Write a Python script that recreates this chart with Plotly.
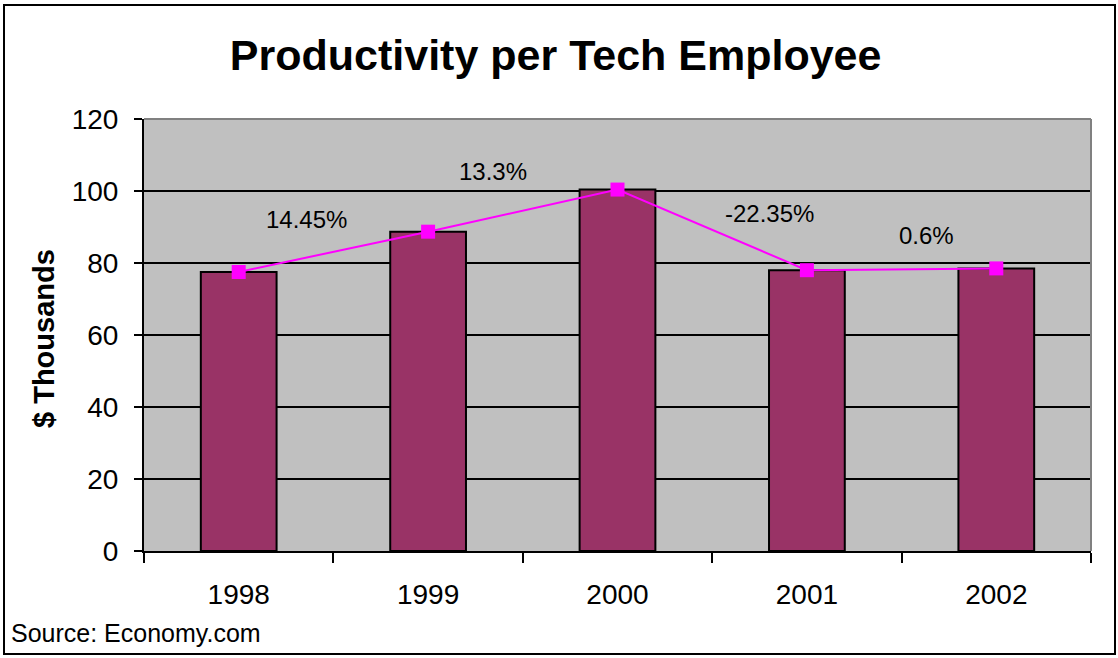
import plotly.graph_objects as go

# Productivity per tech employee, $ thousands
years = ["1998", "1999", "2000", "2001", "2002"]
productivity = [77.5, 88.7, 100.4, 78.0, 78.5]

# Year-over-year change labels, placed between the bars
change_labels = ["14.45%", "13.3%", "-22.35%", "0.6%"]
change_label_x = [0.36, 1.34, 2.80, 3.63]
change_label_y = [92.2, 105.4, 93.7, 87.7]

W, H = 1118, 658
L, R, T, B = 144, 27, 119, 107
PW, PH = W - L - R, H - T - B

FONT = "Arial, Liberation Sans, sans-serif"
BAR = "#993366"
LINE = "#FF00FF"


def px_x(px):
    return (px - L) / PW


def px_y(py):
    return (H - B - py) / PH


fig = go.Figure()

fig.add_trace(go.Bar(
    x=years, y=productivity, width=0.4,
    marker=dict(color=BAR, line=dict(color="black", width=2)),
    hoverinfo="skip", showlegend=False,
))

fig.add_trace(go.Scatter(
    x=years, y=productivity, mode="lines+markers",
    line=dict(color=LINE, width=2),
    marker=dict(symbol="square", size=14, color=LINE),
    showlegend=False,
))

for txt, xv, yv in zip(change_labels, change_label_x, change_label_y):
    fig.add_annotation(x=xv, y=yv, xref="x", yref="y", text=txt,
                       showarrow=False, font=dict(family=FONT, size=24, color="black"))

# y-axis title
fig.add_annotation(x=px_x(44), y=px_y(339), xref="paper", yref="paper",
                   xanchor="center", yanchor="middle",
                   text="<b>$ Thousands</b>", textangle=-90, showarrow=False,
                   font=dict(family=FONT, size=29, color="black"))

# source note
fig.add_annotation(x=px_x(9), y=px_y(633), xref="paper", yref="paper",
                   xanchor="left", yanchor="middle", text="Source: Economy.com",
                   showarrow=False, font=dict(family=FONT, size=25, color="black"))

# grey top/right edge of plot area
fig.add_shape(type="line", xref="paper", yref="paper", x0=0, x1=1, y0=1, y1=1,
              line=dict(color="#808080", width=2), layer="above")
fig.add_shape(type="line", xref="paper", yref="paper", x0=1, x1=1, y0=0, y1=1,
              line=dict(color="#808080", width=2), layer="above")

# outer chart frame
fig.add_shape(type="rect", xref="paper", yref="paper",
              x0=px_x(4), x1=px_x(1115), y0=px_y(654), y1=px_y(5),
              line=dict(color="black", width=2), fillcolor="rgba(0,0,0,0)")

fig.update_layout(
    width=W, height=H,
    margin=dict(l=L, r=R, t=T, b=B, pad=0),
    paper_bgcolor="white", plot_bgcolor="#C0C0C0",
    font=dict(family=FONT, color="black"),
    title=dict(text="<b>Productivity per Tech Employee</b>",
               x=0.497, xanchor="center", xref="container",
               y=1 - 55 / H, yanchor="middle", yref="container",
               font=dict(family=FONT, size=43, color="black")),
    bargap=0.6,
)

fig.update_xaxes(
    type="category", range=[-0.5, 4.5],
    showline=True, linecolor="black", linewidth=2,
    ticks="outside", tickson="boundaries", ticklen=10, tickwidth=2, tickcolor="black",
    tickfont=dict(family=FONT, size=28, color="black"),
    ticklabelstandoff=17,
    showgrid=False, zeroline=False,
)

fig.update_yaxes(
    range=[0, 120], tickvals=[0, 20, 40, 60, 80, 100, 120],
    showline=True, linecolor="black", linewidth=2,
    ticks="outside", ticklen=8, tickwidth=2, tickcolor="black",
    tickfont=dict(family=FONT, size=28, color="black"),
    ticklabelstandoff=10,
    showgrid=True, gridcolor="black", gridwidth=2, zeroline=False,
)

fig.write_html("out.html")
